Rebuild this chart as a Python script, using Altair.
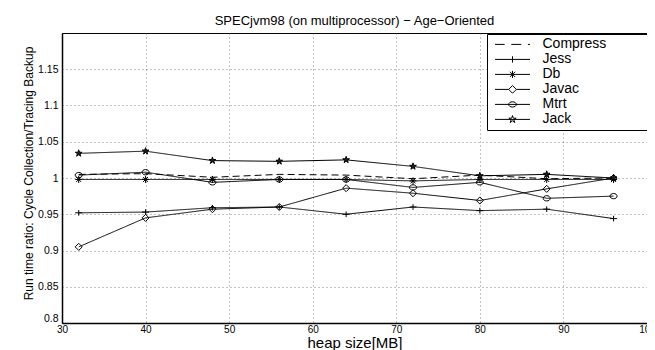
import altair as alt
import pandas as pd

heap = [32, 40, 48, 56, 64, 72, 80, 88, 96]
series = ["Compress", "Jess", "Db", "Javac", "Mtrt", "Jack"]
compress = [1.005, 1.006, 1.001, 1.005, 1.004, 0.999, 1.004, 0.999, 1.000]
jess = [0.952, 0.953, 0.959, 0.960, 0.950, 0.960, 0.955, 0.957, 0.944]
db = [0.998, 0.998, 0.998, 0.998, 0.998, 0.996, 0.998, 0.998, 0.998]
javac = [0.905, 0.945, 0.957, 0.960, 0.986, 0.979, 0.969, 0.985, 1.000]
mtrt = [1.004, 1.008, 0.994, 0.998, 0.998, 0.987, 0.994, 0.972, 0.975]
jack = [1.034, 1.037, 1.024, 1.023, 1.025, 1.016, 1.003, 1.005, 1.000]
values = [compress, jess, db, javac, mtrt, jack]

x_ticks = [30, 40, 50, 60, 70, 80, 90, 100]
y_ticks = [0.8, 0.85, 0.9, 0.95, 1.0, 1.05, 1.1, 1.15]

rows = []
for name, vals in zip(series, values):
    for h, v in zip(heap, vals):
        rows.append({"heap": h, "ratio": v, "series": name})
df = pd.DataFrame(rows)

star = "M0,-1L0.2245,-0.309L0.9511,-0.309L0.3633,0.118L0.5878,0.809L0,0.382L-0.5878,0.809L-0.3633,0.118L-0.9511,-0.309L-0.2245,-0.309Z"
marker_paths = [
    "M0,0",
    "M-1,0H1M0,-0.8V0.8",
    "M-1,0H1M0,-1V1M-0.7,-0.7L0.7,0.7M-0.7,0.7L0.7,-0.7",
    "M0,-1L1,0L0,1L-1,0Z",
    "M1,0A1,0.75 0 1,1 -1,0A1,0.75 0 1,1 1,0Z",
    star,
]
s = 0.22
star_small = "M0,-{a}L{b},-{c}L{d},-{c}L{e},{f}L{g},{h}L0,{i}L-{g},{h}L-{e},{f}L-{d},-{c}L-{b},-{c}Z".format(
    a=s, b=round(0.2245 * s, 4), c=round(0.309 * s, 4), d=round(0.9511 * s, 4),
    e=round(0.3633 * s, 4), f=round(0.118 * s, 4), g=round(0.5878 * s, 4),
    h=round(0.809 * s, 4), i=round(0.382 * s, 4))
legend_paths = [
    "M-1,0H-0.45M-0.07,0H0.5M0.88,0H1",
    "M-1,0H1M0,-0.18V0.18",
    "M-1,0H1M0,-0.2V0.2M-0.15,-0.15L0.15,0.15M-0.15,0.15L0.15,-0.15",
    "M-1,0H-0.22M0.22,0H1M0,-0.22L0.22,0L0,0.22L-0.22,0Z",
    "M-1,0H1M0.22,0A0.22,0.15 0 1,1 -0.22,0A0.22,0.15 0 1,1 0.22,0Z",
    "M-1,0H1" + star_small,
]
dashes = [[7, 4], [1, 0], [1, 0], [1, 0], [1, 0], [1, 0]]

FONT = "Liberation Sans"

x_enc = alt.X("heap:Q", scale=alt.Scale(domain=[30, 100], nice=False),
              axis=alt.Axis(values=x_ticks, title="heap size[MB]", labelFlush=False,
                            titleFontSize=15, titleY=24, titleBaseline="alphabetic",
                            labelPadding=1, labelFontSize=10))
y_enc = alt.Y("ratio:Q", scale=alt.Scale(domain=[0.8, 1.2], nice=False, zero=False),
              axis=alt.Axis(values=y_ticks, format="~g",
                            title="Run time ratio: Cycle Collection/Tracing Backup",
                            titleFontSize=12, labelFontSize=10.5,
                            titleX=-27, titleY=140, labelFlush=True, labelPadding=4))

base = alt.Chart(df)

lines = base.mark_line(color="black", strokeWidth=1).encode(
    x=x_enc, y=y_enc, detail="series:N",
    strokeDash=alt.StrokeDash("series:N", scale=alt.Scale(domain=series, range=dashes), legend=None),
)

points = base.transform_filter(alt.datum.series != "Compress").mark_point(
    filled=False, color="black", strokeWidth=1, size=50, opacity=1
).encode(
    x=x_enc, y=y_enc,
    shape=alt.Shape("series:N", scale=alt.Scale(domain=series, range=marker_paths), legend=None),
    fill=alt.condition(alt.datum.series == "Jack", alt.value("#222"), alt.value("transparent")),
)

legend_layer = base.mark_point(filled=False, color="black", opacity=0).encode(
    x=x_enc, y=y_enc,
    shape=alt.Shape("series:N", scale=alt.Scale(domain=series, range=legend_paths),
                    legend=alt.Legend(title=None, orient="none", legendX=425, legendY=1,
                                      fillColor="white", strokeColor="black", padding=3,
                                      symbolSize=1225, symbolStrokeWidth=1,
                                      symbolStrokeColor="black", symbolFillColor="transparent",
                                      symbolOpacity=1, symbolOffset=4.5, labelOffset=12,
                                      clipHeight=14.8, rowPadding=0, labelFont=FONT,
                                      labelFontSize=14, labelColor="black",
                                      labelExpr="datum.label + '\u2800\u2800\u2800\u2800'")),
)

chart = alt.layer(lines, points, legend_layer).resolve_scale(
    shape="independent"
).properties(
    width=585, height=290,
    autosize=alt.AutoSizeParams(type="none"),
    padding={"left": 54, "top": 25, "right": 0, "bottom": 27},
    title=alt.TitleParams("SPECjvm98 (on multiprocessor) \u2212 Age\u2212Oriented",
                          font=FONT, fontSize=13, fontWeight="normal", color="black",
                          anchor="middle", offset=5),
).configure_view(
    stroke="black", strokeWidth=1
).configure_axis(
    labelFont=FONT, labelFontSize=11, labelColor="black",
    titleFont=FONT, titleFontWeight="normal", titleColor="black",
    grid=True, gridDash=[1, 3], gridColor="#666", gridWidth=0.8,
    ticks=False, domainColor="black", domainWidth=1.5,
)

chart.save("out.html", embed_options={"renderer": "svg", "actions": False})
